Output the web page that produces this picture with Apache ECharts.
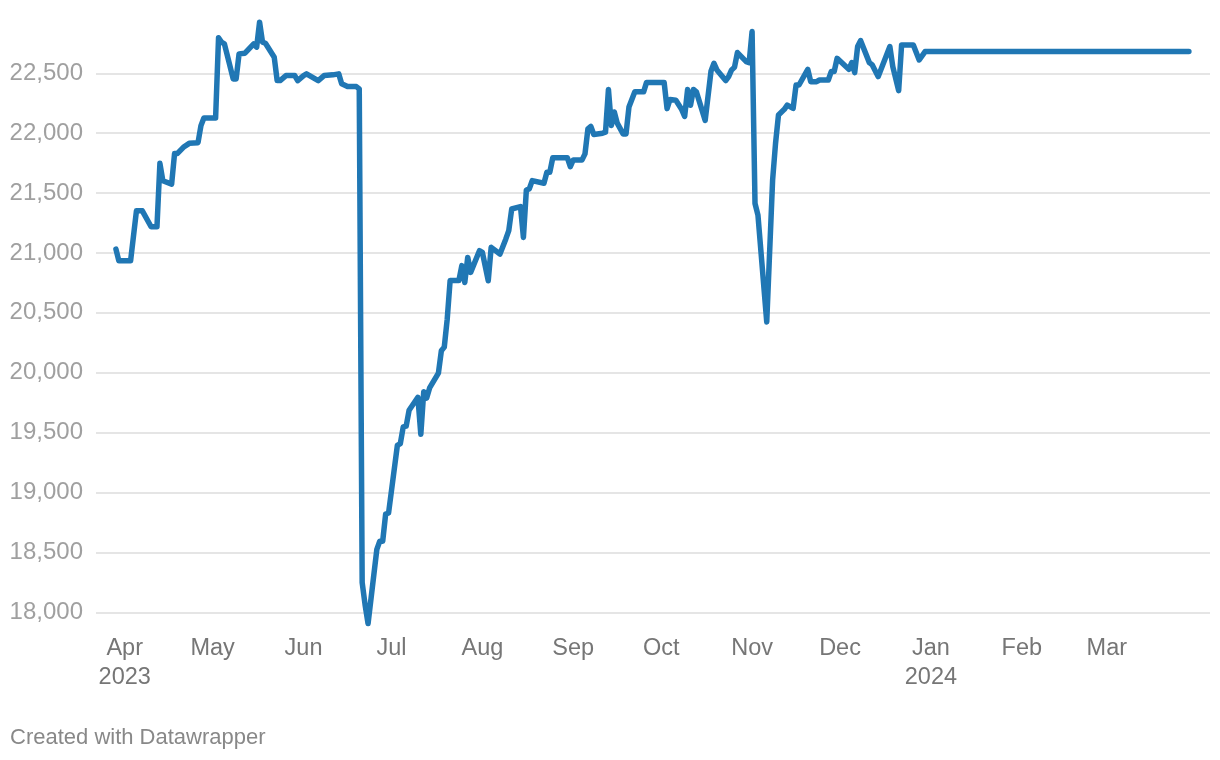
<!DOCTYPE html>
<html>
<head>
<meta charset="utf-8">
<script src="https://cdn.jsdelivr.net/npm/echarts@6/dist/echarts.min.js"></script>
<style>
  html, body { margin: 0; padding: 0; background: #ffffff; }
  #chart { width: 1220px; height: 760px; }
</style>
</head>
<body>
<div id="chart"></div>
<script>
// ---- data ----
const dates = [
  '2023-03-29','2023-03-30','2023-04-03','2023-04-05','2023-04-07','2023-04-10','2023-04-12','2023-04-13','2023-04-14','2023-04-17',
  '2023-04-18','2023-04-19','2023-04-21','2023-04-23','2023-04-26','2023-04-27','2023-04-28','2023-05-02','2023-05-03','2023-05-04',
  '2023-05-05','2023-05-08','2023-05-09','2023-05-10','2023-05-12','2023-05-15','2023-05-16','2023-05-17','2023-05-18','2023-05-19',
  '2023-05-22','2023-05-23','2023-05-24','2023-05-26','2023-05-29','2023-05-30','2023-06-01','2023-06-02','2023-06-06','2023-06-08',
  '2023-06-11','2023-06-13','2023-06-14','2023-06-16','2023-06-19','2023-06-20','2023-06-21','2023-06-22','2023-06-23','2023-06-26',
  '2023-06-27','2023-06-28','2023-06-29','2023-06-30','2023-07-03','2023-07-04','2023-07-05','2023-07-06','2023-07-07','2023-07-10',
  '2023-07-11','2023-07-12','2023-07-13','2023-07-14','2023-07-17','2023-07-18','2023-07-19','2023-07-20','2023-07-21','2023-07-24',
  '2023-07-25','2023-07-26','2023-07-27','2023-07-28','2023-07-31','2023-08-01','2023-08-03','2023-08-04','2023-08-07','2023-08-09',
  '2023-08-10','2023-08-11','2023-08-14','2023-08-15','2023-08-16','2023-08-17','2023-08-18','2023-08-22','2023-08-23','2023-08-24',
  '2023-08-25','2023-08-30','2023-08-31','2023-09-01','2023-09-04','2023-09-05','2023-09-06','2023-09-07','2023-09-08','2023-09-11',
  '2023-09-12','2023-09-13','2023-09-14','2023-09-15','2023-09-16','2023-09-18','2023-09-19','2023-09-20','2023-09-22','2023-09-25',
  '2023-09-26','2023-10-02','2023-10-03','2023-10-04','2023-10-06','2023-10-08','2023-10-09','2023-10-10','2023-10-11','2023-10-12',
  '2023-10-13','2023-10-16','2023-10-18','2023-10-19','2023-10-20','2023-10-23','2023-10-24','2023-10-25','2023-10-26','2023-10-27',
  '2023-10-30','2023-10-31','2023-11-01','2023-11-02','2023-11-03','2023-11-06','2023-11-08','2023-11-09','2023-11-10','2023-11-12',
  '2023-11-13','2023-11-15','2023-11-16','2023-11-17','2023-11-20','2023-11-21','2023-11-23','2023-11-24','2023-11-27','2023-11-28',
  '2023-11-29','2023-11-30','2023-12-04','2023-12-05','2023-12-06','2023-12-07','2023-12-08','2023-12-11','2023-12-12','2023-12-14',
  '2023-12-18','2023-12-19','2023-12-21','2023-12-22','2023-12-26','2023-12-28','2023-12-30','2024-03-29'
];
const values = [
  21032,20934,20934,21352,21352,21219,21219,21748,21603,21575,
  21831,21831,21882,21915,21921,22063,22127,22127,22796,22760,
  22746,22453,22453,22662,22668,22746,22718,22927,22760,22751,
  22634,22439,22439,22481,22481,22439,22481,22495,22439,22481,
  22487,22495,22412,22389,22389,22370,18247,18061,17906,18525,
  18594,18594,18820,18829,19393,19408,19548,19554,19687,19795,
  19486,19842,19789,19873,19997,20183,20214,20446,20771,20771,
  20894,20754,20963,20838,21019,21005,20768,21047,20991,21117,
  21186,21367,21387,21130,21526,21535,21604,21582,21674,21674,
  21794,21794,21721,21777,21777,21827,22036,22056,21989,22000,
  22008,22365,22064,22177,22084,21994,21994,22219,22345,22345,
  22424,22424,22205,22281,22275,22197,22140,22365,22233,22365,
  22345,22107,22520,22584,22528,22439,22472,22528,22550,22673,
  22598,22589,22848,21413,21316,20424,21608,21915,22152,22199,
  22235,22207,22402,22402,22533,22430,22430,22444,22444,22514,
  22514,22625,22533,22589,22506,22723,22773,22589,22570,22472,
  22723,22556,22355,22737,22737,22611,22681,22681
];
const monthTicks = [
  '2023-04-01','2023-05-01','2023-06-01','2023-07-01','2023-08-01','2023-09-01',
  '2023-10-01','2023-11-01','2023-12-01','2024-01-01','2024-02-01','2024-03-01'
];
const monthNames = ['Jan','Feb','Mar','Apr','May','Jun','Jul','Aug','Sep','Oct','Nov','Dec'];
const yTicks = { min: 17500, max: 23000, step: 500 };
const footerText = 'Created with Datawrapper';

// ---- helpers ----
const DAY = 86400000;
function toUTC(s) {
  const p = s.split('-').map(Number);
  return Date.UTC(p[0], p[1] - 1, p[2]);
}
const seriesData = dates.map((d, i) => [toUTC(d), values[i]]);
const tickValues = monthTicks.map(toUTC);
const firstT = toUTC(dates[0]);
const lastT = toUTC(dates[dates.length - 1]);

const FONT = "'Helvetica Neue', Helvetica, Arial, 'Liberation Sans', sans-serif";

const chart = echarts.init(document.getElementById('chart'), null, { renderer: 'canvas' });
chart.setOption({
  animation: false,
  backgroundColor: '#ffffff',
  grid: { left: 96, right: 10, top: 13.4, bottom: 87.8, containLabel: false },
  xAxis: {
    type: 'value',
    min: firstT - 6.8 * DAY,
    max: lastT + 7.2 * DAY,
    offset: -38,
    axisLine: { show: false },
    axisTick: { show: false },
    splitLine: { show: false },
    axisLabel: {
      customValues: tickValues,
      margin: 0,
      color: '#767676',
      fontSize: 23.5,
      lineHeight: 29,
      fontFamily: FONT,
      formatter: function (v) {
        const d = new Date(v);
        const m = d.getUTCMonth();
        const y = d.getUTCFullYear();
        const name = monthNames[m];
        if (v === tickValues[0] || m === 0) return name + '\n' + y;
        return name;
      }
    }
  },
  yAxis: {
    type: 'value',
    min: yTicks.min,
    max: yTicks.max,
    interval: yTicks.step,
    axisLine: { show: false },
    axisTick: { show: false },
    splitLine: {
      show: true,
      showMinLine: false,
      showMaxLine: false,
      lineStyle: { color: '#e5e5e5', width: 2 }
    },
    axisLabel: {
      showMinLabel: false,
      showMaxLabel: false,
      margin: 13,
      color: '#a0a0a0',
      fontSize: 24,
      fontFamily: FONT,
      formatter: function (v) {
        if (v === yTicks.min || v === yTicks.max) return '';
        return v.toLocaleString('en-US');
      }
    }
  },
  series: [{
    type: 'line',
    data: seriesData,
    showSymbol: false,
    symbol: 'none',
    lineStyle: { color: '#2077b4', width: 5.5, cap: 'round', join: 'round' },
    itemStyle: { color: '#2077b4' }
  }],
  graphic: [{
    type: 'text',
    left: 10,
    top: 727,
    style: {
      text: footerText,
      fill: '#888888',
      fontSize: 22,
      fontFamily: FONT
    }
  }]
});
</script>
</body>
</html>
